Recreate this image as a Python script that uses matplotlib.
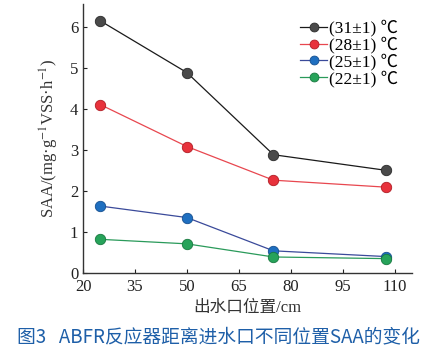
import matplotlib
matplotlib.use("Agg")
import matplotlib.pyplot as plt

plt.rcParams['font.family'] = ['Liberation Serif', 'Noto Sans CJK SC']
plt.rcParams['mathtext.fontset'] = 'stix'

pos = [25, 50, 75, 107.5]
t31 = [6.14, 4.88, 2.88, 2.50]
t28 = [4.10, 3.08, 2.26, 2.09]
t25 = [1.63, 1.35, 0.54, 0.40]
t22 = [0.82, 0.71, 0.39, 0.35]
labels = ['(31±1) ℃', '(28±1) ℃', '(25±1) ℃', '(22±1) ℃']
xticks = [20, 35, 50, 65, 80, 95, 110]

series = [t31, t28, t25, t22]
lcol = ['#1a1a1a', '#e8474f', '#3a4a9a', '#2a9a5a']
mcol = ['#4a4a4a', '#e8323c', '#1f6fc0', '#27a35a']
ecol = ['#2a2a2a', '#b01c24', '#154f8f', '#17783f']

fig = plt.figure(figsize=(4.42, 3.51), dpi=100)
ax = fig.add_axes([83/442, 1-273/351, (412-83)/442, (273-4)/351])

for s, lab, lc, mc, ec in zip(series, labels, lcol, mcol, ecol):
    ax.plot(pos, s, '-', color=lc, lw=0.9, marker='o', ms=7.5,
            mfc=mc, mec=ec, mew=0.6, label=lab)

ax.set_xlim(20, 115)
ax.set_ylim(0, 6.55)
ax.set_xticks(xticks)
ax.set_yticks(range(7))
ax.spines['top'].set_visible(False)
ax.spines['right'].set_visible(False)
for sp in ('left', 'bottom'):
    ax.spines[sp].set_linewidth(1.0)
    ax.spines[sp].set_color('#333333')
ax.tick_params(direction='in', length=3, width=0.8, labelsize=12, colors='#222222')
ax.tick_params(axis='x', pad=4)

ax.set_xlabel('出水口位置/cm', fontsize=12, color='#333333', labelpad=4)
ax.set_ylabel('SAA/(mg·g$^{-1}$VSS·h$^{-1}$)', fontsize=12, color='#333333', labelpad=6)

leg = ax.legend(loc='upper right', bbox_to_anchor=(0.99, 0.98), frameon=False,
                fontsize=12.5, handlelength=1.6, handletextpad=0.1,
                labelspacing=0.0, borderaxespad=0.2, markerscale=0.85)

fig.text(0.495, 1-337/351, '图3   ABFR反应器距离进水口不同位置SAA的变化',
         ha='center', va='center', fontsize=13.5, color='#1e5fa8',
         family=['Noto Sans CJK SC', 'DejaVu Sans'], weight='medium')

fig.savefig('out.png', dpi=100)
